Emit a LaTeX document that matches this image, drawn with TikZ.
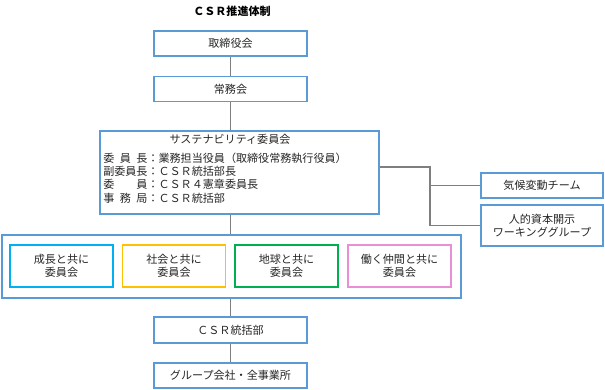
\documentclass[tikz,border=0pt]{standalone}
\usepackage{fontspec}
\setmainfont{Noto Sans CJK JP}
\usetikzlibrary{positioning}
\definecolor{frame}{HTML}{5B9BD5}
\definecolor{wire}{HTML}{7F7F7F}
\definecolor{cyan}{HTML}{00B0F0}
\definecolor{orange}{HTML}{FFC000}
\definecolor{green}{HTML}{00B050}
\definecolor{pink}{HTML}{E88FD8}
\definecolor{ink}{HTML}{262626}
\tikzset{
  every node/.style={font=\fontsize{8.3}{10}\selectfont, text=ink},
  box/.style={draw=frame, line width=0.8pt, fill=white, align=center, inner sep=0pt},
  orgbox/.style={box, minimum width=114.75pt, minimum height=18.75pt},
  sidebox/.style={box, minimum width=91.5pt},
  teambox/.style={box, minimum width=77.25pt, minimum height=31.5pt, line width=1pt},
  cyanbox/.style={teambox, draw=cyan},
  orangebox/.style={teambox, draw=orange},
  greenbox/.style={teambox, draw=green},
  pinkbox/.style={teambox, draw=pink},
  link/.style={draw=wire, line width=1.1pt},
  title/.style={font=\bfseries\fontsize{8.3}{10}\selectfont, text=black},
}
\newcommand{\spreadfour}[1]{\makebox[4em][s]{#1}}
\begin{document}
\begin{tikzpicture}[x=0.75pt, y=-0.75pt]
\useasboundingbox (0,0) rectangle (605,389);
\node[title] (head) at (232,11) {ＣＳＲ推進体制};
\node[orgbox] (board) at (230.5,43.5) {取締役会};
\node[orgbox] (exec) at (230.5,89) {常務会};
\node[box, minimum width=209.25pt, minimum height=62.25pt] (sust) at (239.5,172.5) {};
\node (susthead) at (230,139) {サステナビリティ委員会};
\node[anchor=west, align=left, inner sep=0pt] (sustbody) at (103,178) {%
\spreadfour{委\hfil 員\hfil 長}：業務担当役員（取締役常務執行役員）\\
\spreadfour{副委員長}：ＣＳＲ統括部長\\
\spreadfour{委\hfil 員}：ＣＳＲ４憲章委員長\\
\spreadfour{事\hfil 務\hfil 局}：ＣＳＲ統括部};
\node[sidebox, minimum height=18.75pt] (climate) at (542,185.5) {気候変動チーム};
\node[sidebox, minimum height=30.75pt] (human) at (542,225.5) {人的資本開示\\ワーキンググループ};
\node[box, minimum width=344.25pt, minimum height=47.25pt] (teams) at (231.5,266.5) {};
\node[cyanbox] (growth) at (61.5,266) {成長と共に\\委員会};
\node[orangebox] (society) at (174,266) {社会と共に\\委員会};
\node[greenbox] (earth) at (286.5,266) {地球と共に\\委員会};
\node[pinkbox] (mates) at (399.5,266) {働く仲間と共に\\委員会};
\node[orgbox, minimum height=19.5pt] (csr) at (230.5,330) {ＣＳＲ統括部};
\node[orgbox] (group) at (230.5,375.5) {グループ会社・全事業所};
\coordinate (branch) at (430,167);
% trunk
\draw[link] (board.south) -- (exec.north);
\draw[link] (exec.south) -- (exec.south |- sust.north);
\draw[link] (exec.south |- sust.south) -- (exec.south |- teams.north);
\draw[link] (exec.south |- teams.south) -- (csr.north);
\draw[link] (csr.south) -- (group.north);
% side groups
\draw[link] (sust.east |- branch) -- (branch) |- (climate.west);
\draw[link] (branch) |- (human.west);
\end{tikzpicture}
\end{document}
